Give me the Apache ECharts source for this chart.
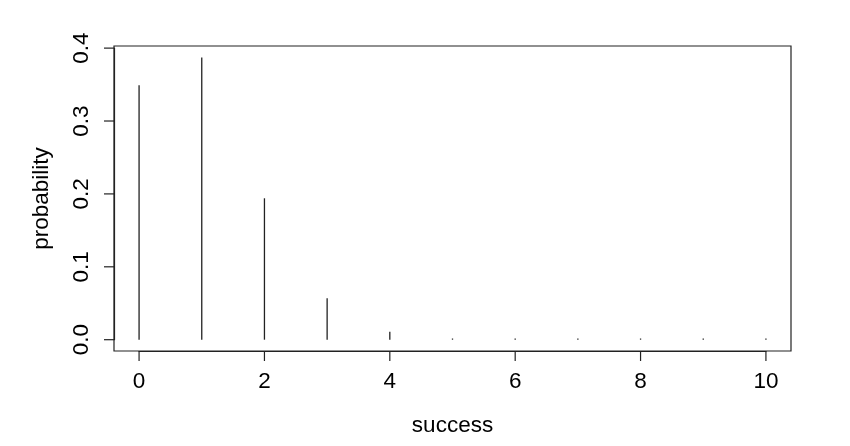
<!DOCTYPE html>
<html><head><meta charset="utf-8">
<script src="https://cdn.jsdelivr.net/npm/echarts@6/dist/echarts.min.js"></script>
<style>html,body{margin:0;padding:0;background:#fff}#c{width:850px;height:446px}</style>
</head><body><div id="c"></div>
<script>
const successes = [0, 1, 2, 3, 4, 5, 6, 7, 8, 9, 10];
const probabilities = [0.349, 0.387, 0.194, 0.057, 0.011, 0.0015, 0.0001, 0.00001, 0.0000004, 0.00000001, 0.0000000001];
const xTicks = [0, 2, 4, 6, 8, 10];
const yTicks = [0, 0.1, 0.2, 0.3, 0.4];

// plot box (R style: data range extended by 4%)
const W = 850, H = 446;
const box = {left: 114, right: 59, top: 46, bottom: 95};
const tickLen = 10;
const xMin = -0.4, xMax = 10.4;
const yMin = -0.0155, yMax = 0.4029;
const tx0 = xTicks[0], tx1 = xTicks[xTicks.length - 1];
const ty0 = yTicks[0], ty1 = yTicks[yTicks.length - 1];
const pxX = (W - box.left - box.right) / (xMax - xMin);
const pxY = (H - box.top - box.bottom) / (yMax - yMin);
const offL = (tx0 - xMin) * pxX, offR = (xMax - tx1) * pxX;
const offT = (yMax - ty1) * pxY, offB = (ty0 - yMin) * pxY;

const chart = echarts.init(document.getElementById('c'), null, {renderer: 'canvas'});
const font = 'Liberation Sans, Arial, Helvetica, sans-serif';
const axisCol = '#222';
const fs = 22.5;
const noAxisParts = {axisLine: {show: false}, axisTick: {show: false}, axisLabel: {show: false}, splitLine: {show: false}};
chart.setOption({
  animation: false,
  backgroundColor: '#fff',
  grid: [
    // 0: data box
    {left: box.left, right: box.right, top: box.top, bottom: box.bottom, outerBoundsMode: 'none', containLabel: false,
      show: true, borderColor: axisCol, borderWidth: 1.2, backgroundColor: 'transparent'},
    // 1: strip under the box for x labels
    {left: box.left + offL, right: box.right + offR, top: H - box.bottom, bottom: box.bottom - tickLen,
      outerBoundsMode: 'none', containLabel: false, show: false},
    // 2: strip left of the box for y labels
    {left: box.left - tickLen, right: W - box.left, top: box.top + offT, bottom: box.bottom + offB,
      outerBoundsMode: 'none', containLabel: false, show: false}
  ],
  xAxis: [
    Object.assign({gridIndex: 0, type: 'value', min: xMin, max: xMax,
      name: 'success', nameLocation: 'middle', nameGap: 63,
      nameTextStyle: {fontFamily: font, fontSize: fs, color: '#000'}}, noAxisParts),
    {gridIndex: 1, type: 'value', position: 'top', min: tx0, max: tx1, interval: xTicks[1] - xTicks[0],
      axisLine: {show: true, onZero: false, lineStyle: {color: axisCol, width: 1.2}},
      splitLine: {show: false},
      axisTick: {show: false},
      axisLabel: {inside: true, margin: 19, fontFamily: font, fontSize: fs, color: '#000'}},
    Object.assign({gridIndex: 2, type: 'value', show: false}, noAxisParts)
  ],
  yAxis: [
    Object.assign({gridIndex: 0, type: 'value', min: yMin, max: yMax,
      name: 'probability', nameLocation: 'middle', nameGap: 61,
      nameTextStyle: {fontFamily: font, fontSize: fs, color: '#000'}}, noAxisParts),
    Object.assign({gridIndex: 1, type: 'value', show: false}, noAxisParts),
    {gridIndex: 2, type: 'value', position: 'right', min: ty0, max: ty1, interval: yTicks[1] - yTicks[0],
      axisLine: {show: true, onZero: false, lineStyle: {color: axisCol, width: 1.2}},
      splitLine: {show: false},
      axisTick: {show: false},
      axisLabel: {inside: true, rotate: 90, margin: 21, fontFamily: font, fontSize: fs, color: '#000',
        formatter: v => v.toFixed(1)}}
  ],
  series: [
    {
      type: 'custom', xAxisIndex: 0, yAxisIndex: 0, clip: false,
      data: successes.map((s, i) => [s, probabilities[i]]),
      renderItem: function (params, api) {
        const base = api.coord([api.value(0), 0]);
        const top = api.coord([api.value(0), api.value(1)]);
        const y2 = Math.min(top[1], base[1] - 1.2);
        return {type: 'line', shape: {x1: base[0], y1: base[1], x2: top[0], y2: y2},
          style: {stroke: '#222', lineWidth: 1.3}};
      }
    },
    {
      // x-axis tick marks, positioned through the data scale
      type: 'custom', xAxisIndex: 0, yAxisIndex: 0, clip: false, silent: true,
      data: xTicks.map(v => [v]),
      renderItem: function (params, api) {
        const p = api.coord([api.value(0), yMin]);
        return {type: 'line', shape: {x1: p[0], y1: p[1], x2: p[0], y2: p[1] + tickLen},
          style: {stroke: axisCol, lineWidth: 1.2}};
      }
    },
    {
      // y-axis tick marks, positioned through the data scale
      type: 'custom', xAxisIndex: 0, yAxisIndex: 0, clip: false, silent: true,
      data: yTicks.map(v => [xMin, v]),
      renderItem: function (params, api) {
        const p = api.coord([xMin, api.value(1)]);
        return {type: 'line', shape: {x1: p[0], y1: p[1], x2: p[0] - tickLen, y2: p[1]},
          style: {stroke: axisCol, lineWidth: 1.2}};
      }
    }
  ]
});
</script></body></html>
